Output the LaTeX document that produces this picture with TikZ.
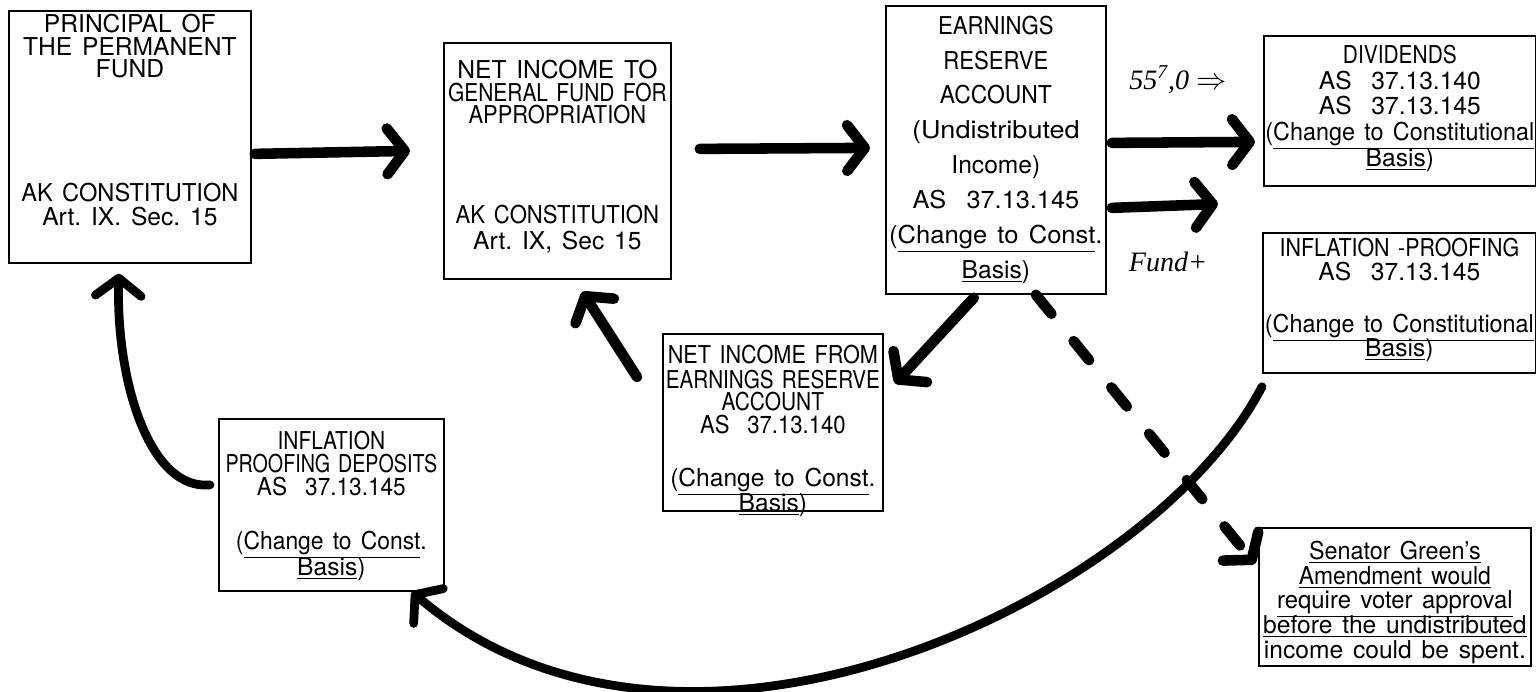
\documentclass[tikz,border=0pt]{standalone}
\usepackage{fontspec}
\setmainfont{TeX Gyre Heros}
\newfontfamily\handfont{Liberation Serif}
\usepackage{graphicx}
\usepackage{tikz}
\usetikzlibrary{positioning}
\usetikzlibrary{arrows.meta}
\newdimen\pxu
\pxu=0.02cm
\newcommand{\sx}[2]{\scalebox{#1}[1]{#2}}
\newcommand{\boxlines}[4]{\parbox[c][#2\pxu][t]{#1\pxu}{\centering\leftskip=-40\pxu plus 1fil\rightskip=-40\pxu plus 1fil\fontsize{14}{13}\selectfont\lineskiplimit=-100pt\frenchspacing\spaceskip=0.4em\relax\vspace*{#3\pxu}#4}}
\tikzset{fundbox/.style={draw, line width=1pt, inner sep=0pt, anchor=north west}}
\tikzset{bigarrow/.style={line width=6pt, line cap=round, line join=round, -{Straight Barb[length=10pt, width=26pt, round]}}}
\tikzset{curvearrow/.style={bigarrow, line width=5pt}}
\tikzset{dasharrow/.style={bigarrow, dash pattern=on 14pt off 20pt}}
\tikzset{hand/.style={font=\handfont\itshape\fontsize{16}{18}\selectfont}}

\begin{document}
\begin{tikzpicture}[x=0.02cm, y=-0.02cm]
\useasboundingbox (0,0) rectangle (1536,692);

\node[fundbox] (pf) at (8,10) {\boxlines{242}{252}{3}{PRINCIPAL OF\\THE PERMANENT\\FUND\\[101\pxu]\sx{0.96}{AK CONSTITUTION}\\[1\pxu]Art. IX. Sec. 15}};
\node[fundbox] (gf) at (443,42) {\boxlines{227}{236}{17}{NET INCOME TO\\\sx{0.85}{GENERAL FUND FOR}\\\sx{0.89}{APPROPRIATION}\\[77\pxu]\sx{0.9}{AK CONSTITUTION}\\[3\pxu]Art. IX, Sec 15}};
\node[fundbox] (era) at (885,5) {\boxlines{220}{288}{10}{\sx{0.9}{EARNINGS}\\[12\pxu]\sx{0.9}{RESERVE}\\[12\pxu]\sx{0.93}{ACCOUNT}\\[12\pxu]\sx{1.1}{(Undistributed}\\[12\pxu]Income)\\[12\pxu]\sx{1.03}{AS\ \ 37.13.145}\\[12\pxu]\sx{1.04}{(\underline{Change to Const}.}\\[12\pxu]\underline{Basis})}};
\node[fundbox] (div) at (1263,35) {\boxlines{272}{150}{9}{\sx{0.85}{DIVIDENDS}\\[3\pxu]AS\ \ 37.13.140\\[3\pxu]AS\ \ 37.13.145\\[3\pxu]\sx{0.95}{(\underline{Change to Constitutional}}\\[3\pxu]\underline{Basis})}};
\node[fundbox] (ip) at (1262,232) {\boxlines{273}{140}{5}{\sx{0.87}{INFLATION -PROOFING}\\[1\pxu]AS\ \ 37.13.145\\[30\pxu]\sx{0.95}{(\underline{Change to Constitutional}}\\[1\pxu]\underline{Basis})}};
\node[fundbox] (nie) at (662,333) {\boxlines{220}{177}{11}{\sx{0.88}{NET INCOME FROM}\\[2\pxu]\sx{0.84}{EARNINGS RESERVE}\\\sx{0.85}{ACCOUNT}\\\sx{0.9}{AS\ \ 37.13.140}\\[30\pxu](\underline{Change to Const}.\\[2\pxu]\underline{Basis})}};
\node[fundbox] (ipd) at (218,418) {\boxlines{225}{172}{12}{\sx{0.85}{INFLATION}\\\sx{0.8}{PROOFING DEPOSITS}\\[1\pxu]\sx{0.92}{AS\ \ 37.13.145}\\[31\pxu]\sx{0.93}{(\underline{Change to Const}.}\\[3\pxu]\underline{Basis})}};
\node[fundbox] (sg) at (1258,527) {\boxlines{272}{138}{13}{\sx{0.95}{\underline{Senator Green's}}\\[2\pxu]\sx{0.93}{\underline{Amendment would}}\\[2\pxu]\sx{0.97}{\underline{require voter approval}}\\[2\pxu]\underline{before the undistributed}\\[2\pxu]income could be spent.}};

\node[hand] (amt) at (1178,80) {55\textsuperscript{7},0 $\Rightarrow$};
\node[hand] (fnd) at (1168,262) {Fund+};

\draw[bigarrow] ([shift={(3,17)}]pf.east) -- ([shift={(-33,-10)}]gf.west);
\draw[bigarrow] ([shift={(28,-12)}]gf.east) -- ([shift={(-15,-2)}]era.west);
\draw[bigarrow] ([shift={(5,-7)}]era.east) -- ([shift={(-8,31)}]div.west);
\draw[bigarrow] ([shift={(5,58)}]era.east) -- ([shift={(-44,-28)}]ip.north west);
\draw[bigarrow] ([shift={(-22,3)}]era.south) -- ([shift={(11,-39)}]nie.east);
\draw[bigarrow] ([shift={(-25,44)}]nie.north west) -- ([shift={(25,12)}]gf.south);
\draw[dasharrow] ([shift={(40,0)}]era.south) -- ([shift={(-3,-33)}]sg.west);
\draw[curvearrow] ([shift={(-8,-20)}]ipd.west) .. controls +(-60,6) and +(-3,108) .. ([shift={(-11,10)}]pf.south);
\draw[curvearrow] ([shift={(0,13)}]ip.south west) .. controls +(-112,215) and +(270,230) .. ([shift={(-33,0)}]ipd.south east);
\end{tikzpicture}
\end{document}
